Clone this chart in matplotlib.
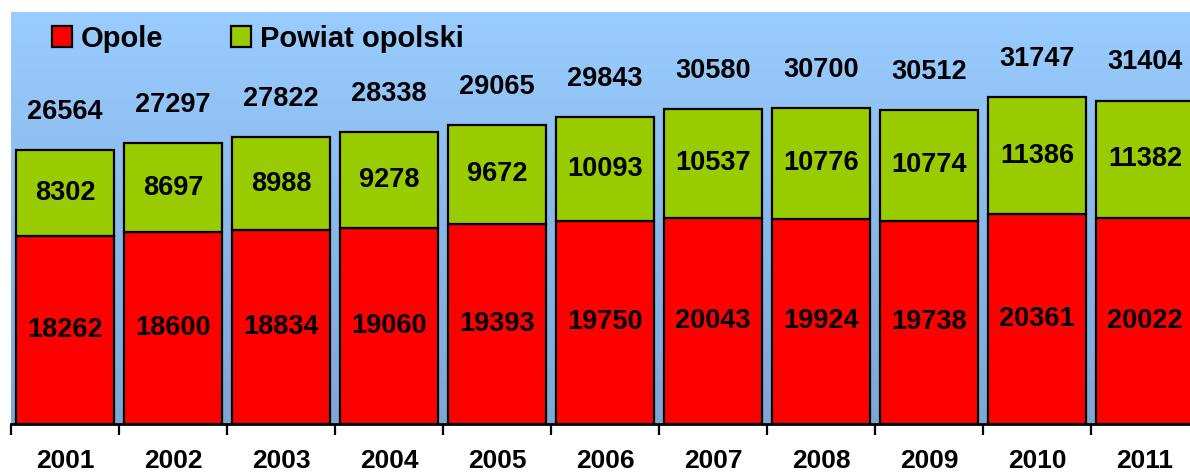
import numpy as np
import matplotlib.pyplot as plt
from matplotlib.patches import Patch

years = ["2001", "2002", "2003", "2004", "2005", "2006", "2007", "2008", "2009", "2010", "2011"]
opole = [18262, 18600, 18834, 19060, 19393, 19750, 20043, 19924, 19738, 20361, 20022]
powiat = [8302, 8697, 8988, 9278, 9672, 10093, 10537, 10776, 10774, 11386, 11382]
totals = [26564, 27297, 27822, 28338, 29065, 29843, 30580, 30700, 30512, 31747, 31404]

plt.rcParams['font.family'] = ['Liberation Sans', 'DejaVu Sans']
FS = 19.5

fig = plt.figure(figsize=(11.9, 4.75), dpi=100)
ax = fig.add_axes([11/1190, 51/475, 1188/1190, 412/475])

x = np.arange(len(years))
ymax = 40000
ax.set_xlim(-0.5, len(years) - 0.5)
ax.set_ylim(0, ymax)

# gradient background
top = np.array([153, 204, 255]) / 255
bot = np.array([126, 166, 214]) / 255
t = np.linspace(0, 1, 256)[:, None]
grad = (top[None, :] * (1 - t) + bot[None, :] * t)[:, None, :]
ax.imshow(grad, extent=[-0.5, len(years) - 0.5, 0, ymax], aspect='auto', zorder=0, origin='upper')

w = 0.91
ax.bar(x, opole, width=w, color='#FF0000', edgecolor='black', linewidth=1.6, zorder=2, label='Opole')
ax.bar(x, powiat, width=w, bottom=opole, color='#99CC00', edgecolor='black', linewidth=1.6, zorder=2, label='Powiat opolski')

for i in range(len(years)):
    ax.text(x[i], opole[i] / 2, str(opole[i]), ha='center', va='center', fontsize=FS, fontweight='bold', zorder=3)
    ax.text(x[i], opole[i] + powiat[i] / 2, str(powiat[i]), ha='center', va='center', fontsize=FS, fontweight='bold', zorder=3)
    ax.text(x[i], totals[i] + 3700, str(totals[i]), ha='center', va='center', fontsize=FS, fontweight='bold', zorder=3)

for s in ['left', 'right', 'top']:
    ax.spines[s].set_visible(False)
ax.spines['bottom'].set_linewidth(2)
ax.spines['bottom'].set_zorder(4)

ax.set_yticks([])
ax.set_xticks(x)
ax.set_xticklabels(years, fontsize=19, fontweight='bold')
ax.tick_params(axis='x', which='major', length=0, pad=18)
ax.set_xticks(np.arange(-0.5, len(years), 1.0), minor=True)
ax.tick_params(axis='x', which='minor', length=8, width=1.6, direction='out', color='black')

handles = [Patch(facecolor='#FF0000', edgecolor='black', linewidth=1.6, label='Opole'),
           Patch(facecolor='#99CC00', edgecolor='black', linewidth=1.6, label='Powiat opolski')]
leg = ax.legend(handles=handles, loc='upper left', bbox_to_anchor=(43/1190, 1 - 16/475), bbox_transform=fig.transFigure,
                ncol=2, frameon=False, prop={'size': 21, 'weight': 'bold'},
                handlelength=0.7, handleheight=0.7, handletextpad=0.3, columnspacing=2.3, borderaxespad=0, borderpad=0.3)

fig.savefig('out.png', dpi=100)
